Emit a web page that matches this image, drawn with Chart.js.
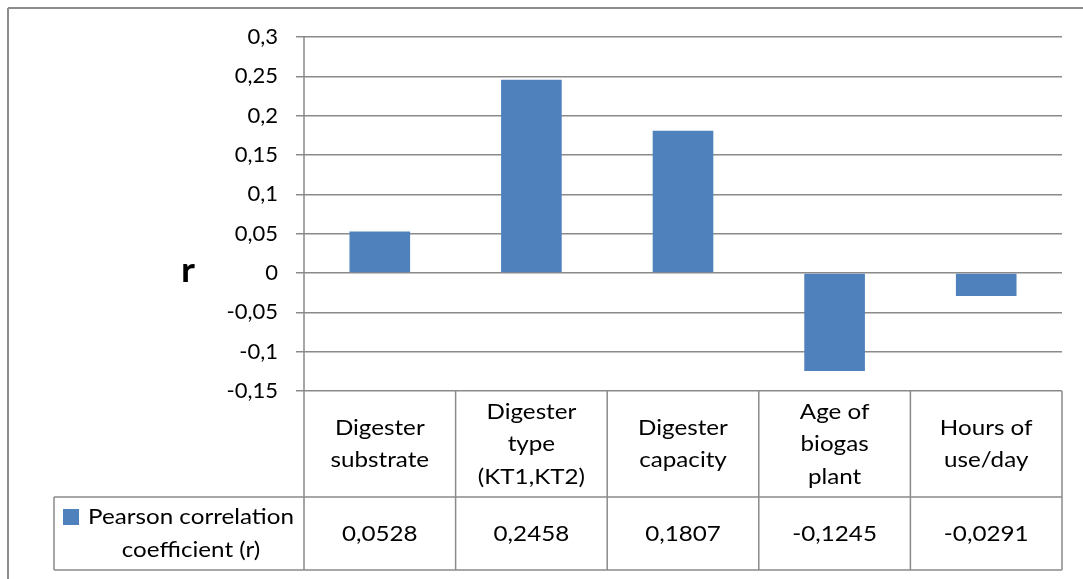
<!DOCTYPE html>
<html>
<head>
<meta charset="utf-8">
<script src="https://cdn.jsdelivr.net/npm/chart.js@4/dist/chart.umd.min.js"></script>
<style>
  html, body { margin: 0; padding: 0; background: #fff; overflow: hidden; }
  canvas { display: block; }
</style>
</head>
<body>
<canvas id="chart" width="1083" height="579"></canvas>
<script>
// Category names (one entry per line of the wrapped header text)
const categories = [
  ["Digester", "substrate"],
  ["Digester", "type", "(KT1,KT2)"],
  ["Digester", "capacity"],
  ["Age of", "biogas", "plant"],
  ["Hours of", "use/day"]
];
// Series name, wrapped over two lines in the data table
const seriesName = ["Pearson correlation", "coefficient (r)"];
// Pearson correlation coefficient per factor
const pearsonR = [0.0528, 0.2458, 0.1807, -0.1245, -0.0291];
// Value axis ticks
const yTickValues = [-0.15, -0.1, -0.05, 0, 0.05, 0.1, 0.15, 0.2, 0.25, 0.3];
const yAxisTitle = "r";

const BAR_COLOR = "#4f81bd";
const LINE_COLOR = "#8a8a8a";
const TEXT_COLOR = "#000000";
const FONT_FAMILY = "Lato, 'Open Sans', sans-serif";
const FONT_SIZE = 22;
const TEXT_STRETCH = 1.1;

const decimalComma = (v, digits) => {
  const s = digits === undefined ? String(parseFloat(v.toFixed(4))) : v.toFixed(digits);
  return s.replace(".", ",");
};

// Horizontally stretched text helper
function drawText(ctx, text, x, y, align, font) {
  ctx.save();
  ctx.font = font;
  ctx.fillStyle = TEXT_COLOR;
  ctx.textBaseline = "middle";
  ctx.textAlign = align;
  ctx.translate(x, y);
  ctx.scale(TEXT_STRETCH, 1);
  ctx.fillText(text, 0, 0);
  ctx.restore();
}

function hLine(ctx, x1, x2, y) {
  ctx.beginPath(); ctx.moveTo(x1, y); ctx.lineTo(x2, y); ctx.stroke();
}
function vLine(ctx, x, y1, y2) {
  ctx.beginPath(); ctx.moveTo(x, y1); ctx.lineTo(x, y2); ctx.stroke();
}

// Chart frame, data table under the plot and the horizontal axis title
const frameAndTable = {
  id: "frameAndTable",
  beforeDraw(chart) {
    const ctx = chart.ctx;
    ctx.save();
    ctx.fillStyle = "#fff";
    ctx.fillRect(0, 0, chart.width, chart.height);
    ctx.strokeStyle = "#8c8c8c";
    ctx.lineWidth = 2;
    hLine(ctx, 8, chart.width, 8);
    vLine(ctx, 8, 8, chart.height);
    ctx.restore();
  },
  afterDraw(chart) {
    const ctx = chart.ctx;
    const area = chart.chartArea;
    const xs = chart.scales.x;
    const n = categories.length;
    const step = (area.right - area.left) / n;
    const headTop = area.bottom;
    const rowTop = 497;
    const rowBottom = 570;
    const legendLeft = 54;
    const font = `${FONT_SIZE}px ${FONT_FAMILY}`;
    const lineGap = 32.5;

    ctx.save();
    ctx.strokeStyle = LINE_COLOR;
    ctx.lineWidth = 1.5;
    // value axis line continues down through the table
    vLine(ctx, area.left, area.top, rowBottom);
    for (let i = 1; i <= n; i++) {
      vLine(ctx, area.left + step * i, headTop, rowBottom);
    }
    hLine(ctx, legendLeft, area.right, rowTop);
    hLine(ctx, legendLeft, area.right, rowBottom);
    vLine(ctx, legendLeft, rowTop, rowBottom);
    ctx.restore();

    // header: category names
    categories.forEach((lines, i) => {
      const cx = xs.getPixelForValue(i);
      const cy = (headTop + rowTop) / 2;
      lines.forEach((t, k) => {
        drawText(ctx, t, cx, cy + (k - (lines.length - 1) / 2) * lineGap, "center", font);
      });
    });

    // data row: values
    pearsonR.forEach((v, i) => {
      const cx = xs.getPixelForValue(i);
      drawText(ctx, decimalComma(v, 4), cx, (rowTop + rowBottom) / 2, "center", font);
    });

    // legend key and series name
    const ly = (rowTop + rowBottom) / 2;
    ctx.save();
    ctx.fillStyle = BAR_COLOR;
    ctx.fillRect(63, ly - 24.5, 16, 16);
    ctx.restore();
    seriesName.forEach((t, k) => {
      drawText(ctx, t, 191, ly + (k - 0.5) * lineGap, "center", font);
    });

    // axis title
    drawText(ctx, yAxisTitle, 188, chart.scales.y.getPixelForValue(0) - 2, "center", `bold 34px ${FONT_FAMILY}`);
  }
};

new Chart(document.getElementById("chart"), {
  type: "bar",
  data: {
    labels: categories.map(c => c.join(" ")),
    datasets: [{
      label: seriesName.join(" "),
      data: pearsonR,
      backgroundColor: BAR_COLOR,
      borderWidth: 0,
      categoryPercentage: 1,
      barPercentage: 0.4
    }]
  },
  options: {
    responsive: false,
    animation: false,
    devicePixelRatio: 1,
    layout: { padding: { left: 0, top: 37, right: 21, bottom: 188 } },
    plugins: { legend: { display: false }, tooltip: { enabled: false } },
    scales: {
      x: { display: false },
      y: {
        min: yTickValues[0],
        max: yTickValues[yTickValues.length - 1],
        afterFit(scale) { scale.width = 304; },
        afterBuildTicks(scale) { scale.ticks = yTickValues.map(v => ({ value: v })); },
        border: { display: false },
        grid: { color: LINE_COLOR, lineWidth: 1.5, drawTicks: true, tickLength: 8, tickColor: LINE_COLOR },
        ticks: {
          padding: 18,
          color: TEXT_COLOR,
          font: { family: FONT_FAMILY, size: FONT_SIZE },
          callback: v => decimalComma(v)
        }
      }
    }
  },
  plugins: [frameAndTable]
});
</script>
</body>
</html>
